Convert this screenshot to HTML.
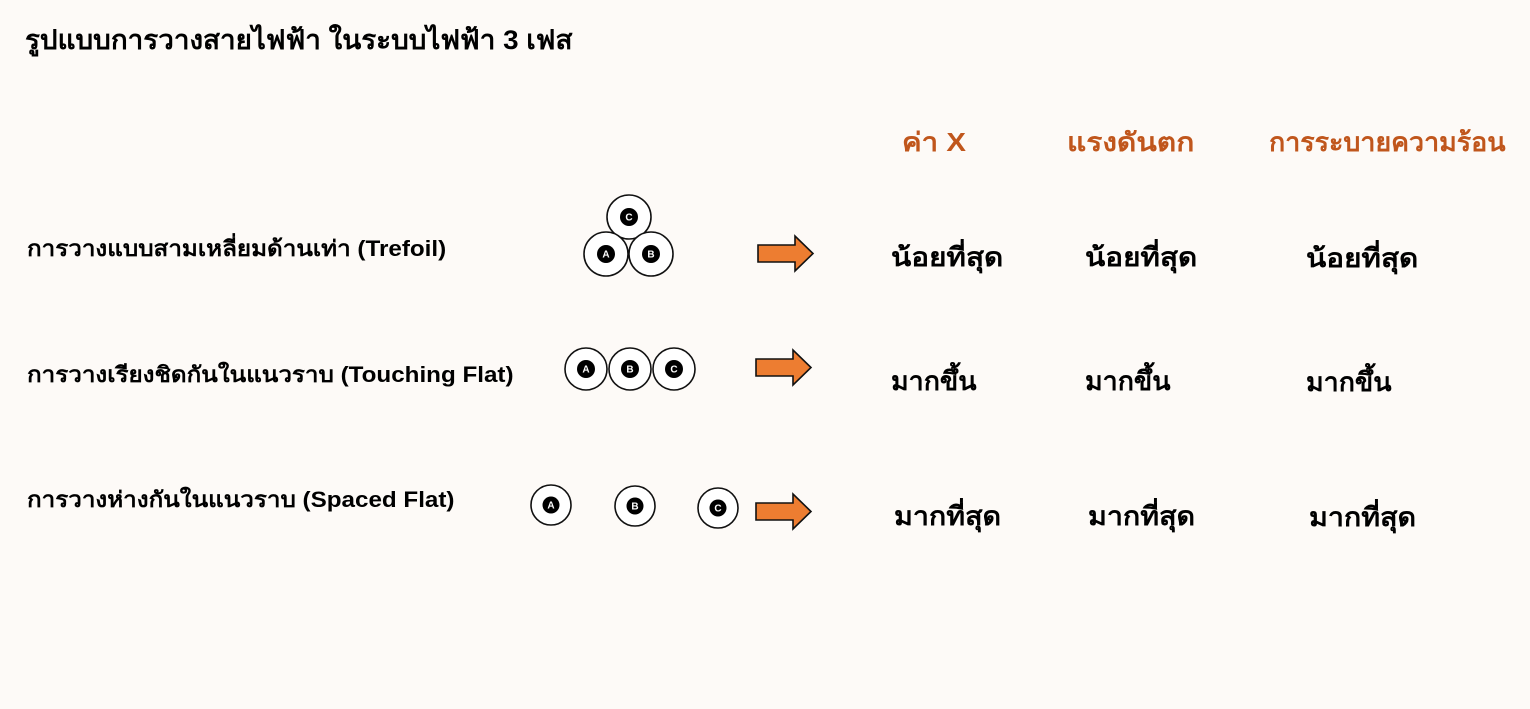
<!DOCTYPE html>
<html><head><meta charset="utf-8">
<style>
html,body{margin:0;padding:0}
body{width:1530px;height:709px;background:#fdfaf7;position:relative;overflow:hidden;font-family:"Liberation Sans","DejaVu Sans",sans-serif;font-weight:bold;color:#000}
.t{position:absolute;white-space:nowrap;line-height:1;transform-origin:0 50%}
.h{color:#c0561c;font-size:26px;transform:scaleX(1.13)}
.v{font-size:26px;transform:scaleX(1.14)}
.m{transform:scaleX(1.03)}
.s{transform:scaleX(1.10)}
.l{font-size:22px;transform:scaleX(1.1)}
svg{position:absolute;left:0;top:0}
</style></head><body>
<div class="t" style="left:25px;top:27px;font-size:27px;transform:scaleX(1.03)">รูปแบบการวางสายไฟฟ้า ในระบบไฟฟ้า 3 เฟส</div>

<div class="t h" style="left:902px;top:129px">ค่า X</div>
<div class="t h" style="left:1067px;top:129px;transform:scaleX(1.15)">แรงดันตก</div>
<div class="t h" style="left:1269px;top:129px;transform:scaleX(1.03)">การระบายความร้อน</div>

<div class="t l" style="left:27px;top:238px">การวางแบบสามเหลี่ยมด้านเท่า (Trefoil)</div>
<div class="t l" style="left:27px;top:364px">การวางเรียงชิดกันในแนวราบ (Touching Flat)</div>
<div class="t l" style="left:27px;top:489px">การวางห่างกันในแนวราบ (Spaced Flat)</div>

<div class="t v" style="left:891px;top:244px">น้อยที่สุด</div>
<div class="t v" style="left:1085px;top:244px">น้อยที่สุด</div>
<div class="t v" style="left:1306px;top:245px">น้อยที่สุด</div>

<div class="t v m" style="left:891px;top:368px">มากขึ้น</div>
<div class="t v m" style="left:1085px;top:368px">มากขึ้น</div>
<div class="t v m" style="left:1306px;top:369px">มากขึ้น</div>

<div class="t v s" style="left:894px;top:503px">มากที่สุด</div>
<div class="t v s" style="left:1088px;top:503px">มากที่สุด</div>
<div class="t v s" style="left:1309px;top:504px">มากที่สุด</div>

<svg width="1530" height="709" font-family="Liberation Sans,sans-serif" font-size="10" text-anchor="middle">
<g stroke="#111" stroke-width="1.6" fill="#fff">
<circle cx="629" cy="217" r="22"/>
<circle cx="606" cy="254" r="22"/>
<circle cx="651" cy="254" r="22"/>
<circle cx="586" cy="369" r="21"/>
<circle cx="630" cy="369" r="21"/>
<circle cx="674" cy="369" r="21"/>
<circle cx="551" cy="505" r="20"/>
<circle cx="635" cy="506" r="20"/>
<circle cx="718" cy="508" r="20"/>
</g>
<g fill="#000">
<circle cx="629" cy="217" r="9"/>
<circle cx="606" cy="254" r="9"/>
<circle cx="651" cy="254" r="9"/>
<circle cx="586" cy="369" r="9"/>
<circle cx="630" cy="369" r="9"/>
<circle cx="674" cy="369" r="9"/>
<circle cx="551" cy="505" r="8.5"/>
<circle cx="635" cy="506" r="8.5"/>
<circle cx="718" cy="508" r="8.5"/>
</g>
<g fill="#fff">
<text x="629" y="220.5">C</text><text x="606" y="257.5">A</text><text x="651" y="257.5">B</text>
<text x="586" y="372.5">A</text><text x="630" y="372.5">B</text><text x="674" y="372.5">C</text>
<text x="551" y="508.5">A</text><text x="635" y="509.5">B</text><text x="718" y="511.5">C</text>
</g>
<g fill="#ed7d31" stroke="#111" stroke-width="1.6" stroke-linejoin="miter">
<polygon points="758,245 795,245 795,236 813,253.5 795,271 795,262 758,262"/>
<polygon points="756,359 793,359 793,350 811,367.5 793,385 793,376 756,376"/>
<polygon points="756,503 793,503 793,494 811,511.5 793,529 793,520 756,520"/>
</g>
</svg>
</body></html>
